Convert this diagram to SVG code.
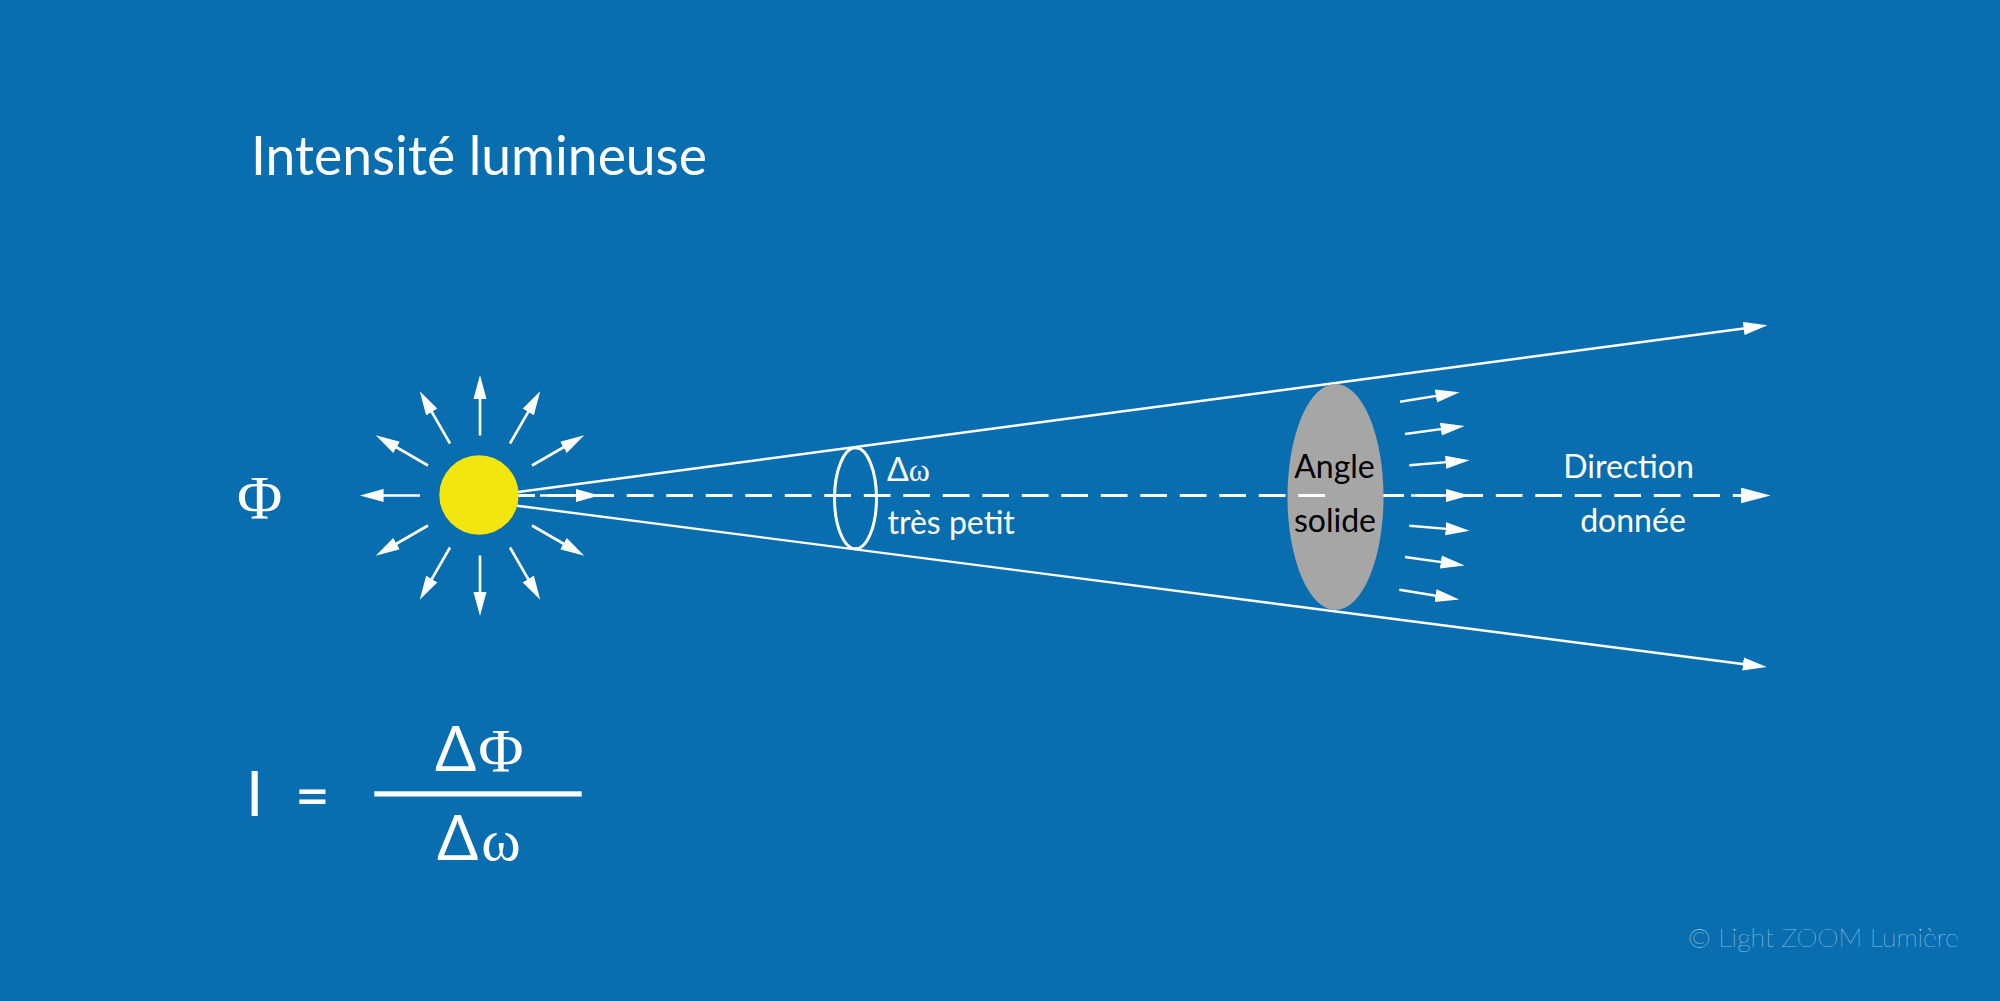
<svg xmlns="http://www.w3.org/2000/svg" width="2000" height="1001" viewBox="0 0 2000 1001">
<style>
text{font-family:"Lato","Carlito","Liberation Sans",sans-serif;fill:#fff}
.serif{font-family:"Liberation Serif","Times New Roman",serif}
.lbl{font-size:32px}
.mid{text-anchor:middle}
.ar{stroke:#fff;stroke-width:2.4;fill:none;marker-end:url(#ah)}
.ray{stroke-width:2.6}
</style>
<defs>
<marker id="ah" markerUnits="userSpaceOnUse" markerWidth="24" markerHeight="14" refX="12" refY="6" orient="auto" viewBox="0 0 22 12"><path d="M0 0L22 6L0 12z" fill="#fff"/></marker>
<marker id="ahb" markerUnits="userSpaceOnUse" markerWidth="30" markerHeight="16" refX="18.3" refY="7.5" orient="auto" viewBox="0 0 28.3 15"><path d="M0 0L28.3 7.5L0 15z" fill="#fff"/></marker>
</defs>
<rect id="background" width="2000" height="1001" fill="#096eb0"/>
<text id="title" x="251" y="175" font-size="53.4">Intensité lumineuse</text>
<g id="flux-label"><text class="serif" x="237" y="517.5" font-size="62">Φ</text></g>
<g id="connectors">
<line class="ar" x1="518" y1="492" x2="1756.7" y2="326.8"/>
<line class="ar" x1="517" y1="505.7" x2="1756" y2="665.7"/>
<line x1="508.3" y1="495.5" x2="1760" y2="495.5" stroke="#fff" stroke-width="3" stroke-dasharray="26.7 12.8" marker-end="url(#ahb)"/>
<g id="rays">
<line class="ar ray" x1="480" y1="435.5" x2="480" y2="386"/>
<line class="ar ray" x1="480" y1="555.5" x2="480" y2="605"/>
<line class="ar ray" x1="420" y1="495.5" x2="370.5" y2="495.5"/>
<line class="ar ray" x1="510" y1="443.5" x2="534.75" y2="400.7"/>
<line class="ar ray" x1="450" y1="443.5" x2="425.25" y2="400.7"/>
<line class="ar ray" x1="532" y1="465.5" x2="574.8" y2="440.75"/>
<line class="ar ray" x1="428" y1="465.5" x2="385.2" y2="440.75"/>
<line class="ar ray" x1="532" y1="525.5" x2="574.8" y2="550.25"/>
<line class="ar ray" x1="428" y1="525.5" x2="385.2" y2="550.25"/>
<line class="ar ray" x1="510" y1="547.5" x2="534.75" y2="590.3"/>
<line class="ar ray" x1="450" y1="547.5" x2="425.25" y2="590.3"/>
<line class="ar ray" x1="540" y1="495.5" x2="588.7" y2="495.5"/>
</g>
<g id="beam-arrows">
<line class="ar" x1="1400" y1="401.7" x2="1448.8" y2="393.9"/>
<line class="ar" x1="1405" y1="434" x2="1453.8" y2="427.35"/>
<line class="ar" x1="1409.3" y1="465.3" x2="1458.7" y2="461.1"/>
<line class="ar" x1="1411" y1="495.5" x2="1458.7" y2="495.5"/>
<line class="ar" x1="1409.3" y1="525.7" x2="1458.7" y2="529.9"/>
<line class="ar" x1="1405" y1="557" x2="1453.8" y2="563.9"/>
<line class="ar" x1="1399.3" y1="589.7" x2="1448.4" y2="597.7"/>
</g>
</g>
<g id="source"><circle cx="479" cy="495" r="39.7" fill="#f2e60e"/></g>
<g id="small-solid-angle">
<ellipse cx="855.5" cy="498.3" rx="21" ry="50.5" fill="none" stroke="#fff" stroke-width="3"/>
<text x="887" y="481" class="lbl">Δ<tspan class="serif">ω</tspan></text>
<text x="887.5" y="534" class="lbl">très petit</text>
</g>
<g id="solid-angle">
<ellipse cx="1335.5" cy="497" rx="48" ry="113" fill="#a6a6a6"/>
<line x1="1298.3" y1="495.5" x2="1325" y2="495.5" stroke="#fff" stroke-width="3"/>
<text x="1334.5" y="478" class="lbl mid" style="fill:#000">Angle</text>
<text x="1335" y="531.5" class="lbl mid" style="fill:#000">solide</text>
</g>
<g id="direction">
<text x="1628.5" y="478" class="lbl mid">Direction</text>
<text x="1633" y="531.5" class="lbl mid">donnée</text>
</g>
<g id="formula">
<text x="246" y="816" font-size="62">I</text>
<text x="295" y="817" font-size="60" font-weight="500">=</text>
<text x="435" y="771" font-size="61">Δ<tspan class="serif" font-size="62" dx="2">Φ</tspan></text>
<rect x="374.3" y="791.3" width="207.4" height="5.2" fill="#fff"/>
<text x="437" y="860" font-size="61">Δ<tspan class="serif" font-size="60" dx="3">ω</tspan></text>
</g>
<text id="copyright" x="1688" y="946.5" font-size="26.7" font-weight="100" style="fill:#f0f7fc">© Light ZOOM Lumière</text>
</svg>
